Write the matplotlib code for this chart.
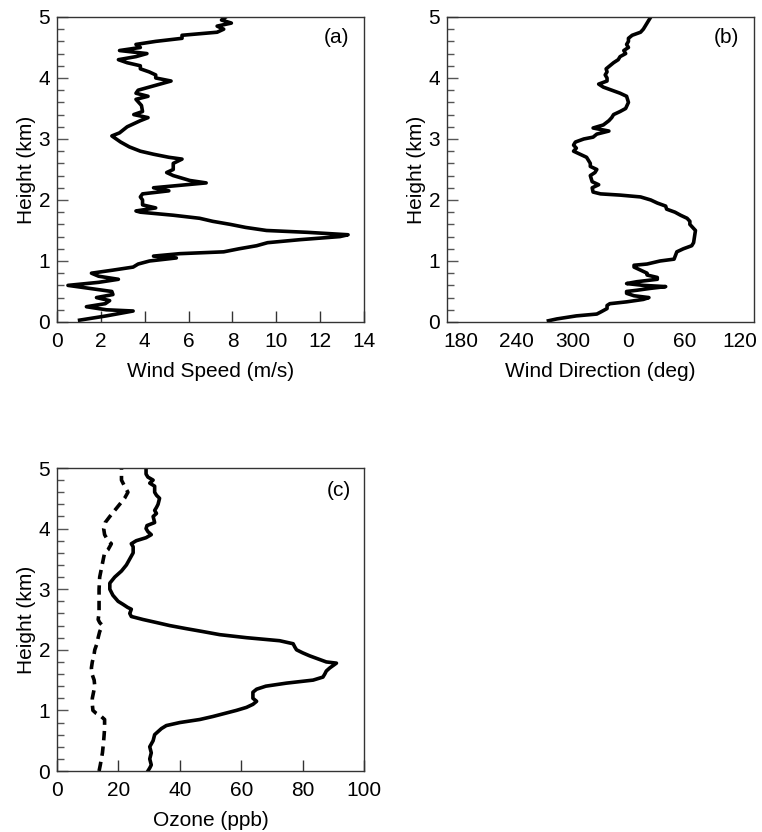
import matplotlib.pyplot as plt
import numpy as np
from matplotlib.ticker import MultipleLocator

plt.rcParams['font.family'] = ['Liberation Sans', 'DejaVu Sans']
plt.rcParams['font.size'] = 15

# panel (a): wind speed profile
h_speed = [0.03, 0.1, 0.18, 0.2, 0.25, 0.3, 0.35, 0.4, 0.45, 0.5, 0.55, 0.6, 0.65, 0.7, 0.75,
           0.8, 0.85, 0.9, 0.95, 1.0, 1.05, 1.08, 1.12, 1.15, 1.2, 1.25, 1.3, 1.35, 1.4, 1.43,
           1.47, 1.5, 1.55, 1.6, 1.65, 1.7, 1.75, 1.8, 1.82, 1.87, 1.92, 2.0, 2.05, 2.1, 2.15,
           2.2, 2.25, 2.28, 2.32, 2.4, 2.45, 2.5, 2.6, 2.67, 2.7, 2.75, 2.8, 2.87, 2.95, 3.0,
           3.05, 3.1, 3.2, 3.25, 3.3, 3.35, 3.4, 3.45, 3.55, 3.65, 3.7, 3.75, 3.8, 3.85, 3.9,
           3.95, 4.0, 4.05, 4.1, 4.15, 4.2, 4.25, 4.3, 4.35, 4.4, 4.45, 4.5, 4.55, 4.6, 4.65,
           4.7, 4.75, 4.8, 4.85, 4.9, 4.95, 5.0]
speed = [1.03, 2.25, 3.47, 2.25, 1.34, 2.2, 2.4, 1.8, 2.55, 2.5, 1.5, 0.5, 1.9, 2.8, 1.9,
         1.57, 2.55, 3.47, 3.7, 4.22, 5.44, 4.4, 5.6, 7.6, 8.3, 9.1, 9.6, 11.1, 12.9, 13.27,
         11.4, 9.55, 8.6, 7.9, 7.1, 6.5, 5.3, 3.8, 3.6, 4.5, 3.9, 3.9, 3.8, 3.9, 5.1,
         4.4, 5.9, 6.8, 6.05, 5.3, 5.0, 5.3, 5.3, 5.7, 5.1, 4.4, 3.8, 3.3, 2.9, 2.7,
         2.5, 2.85, 3.2, 3.5, 3.8, 4.15, 3.5, 3.9, 3.85, 3.6, 4.15, 3.6, 3.7, 4.2, 4.7,
         5.2, 4.5, 4.5, 4.2, 3.8, 3.8, 3.2, 2.8, 3.6, 4.1, 2.85, 3.8, 3.6, 4.5, 5.7,
         5.7, 7.3, 7.6, 7.3, 7.95, 7.5, 7.7]

# panel (b): wind direction profile (deg, 0-360)
h_dir = [0.02, 0.05, 0.1, 0.13, 0.17, 0.22, 0.27, 0.3, 0.33, 0.37, 0.4, 0.43, 0.47, 0.5, 0.52,
         0.55, 0.58, 0.6, 0.63, 0.66, 0.7, 0.73, 0.77, 0.8, 0.85, 0.9, 0.93, 0.95, 1.0, 1.03,
         1.07, 1.15, 1.2, 1.25, 1.3, 1.4, 1.5, 1.6, 1.65, 1.7, 1.75, 1.8, 1.85, 1.9, 1.95,
         2.0, 2.05, 2.08, 2.1, 2.13, 2.2, 2.25, 2.3, 2.4, 2.45, 2.5, 2.55, 2.6, 2.7, 2.75,
         2.8, 2.85, 2.9, 2.95, 3.0, 3.03, 3.08, 3.13, 3.18, 3.23, 3.3, 3.35, 3.4, 3.45, 3.5,
         3.6, 3.7, 3.75, 3.8, 3.85, 3.9, 3.95, 4.0, 4.05, 4.1, 4.15, 4.2, 4.25, 4.3, 4.35,
         4.4, 4.45, 4.5, 4.55, 4.6, 4.65, 4.7, 4.75, 4.8, 4.85, 4.9, 4.95, 5.0]
direction = [274, 283, 304, 326, 331, 337, 337, 340, 358, 16, 22, 6, 358, 358, 9,
             23, 40, 16, 358, 9, 31, 31, 20, 20, 13, 6, 6, 20, 34, 49,
             50, 52, 59, 68, 70, 71, 72, 66, 66, 63, 56, 50, 41, 40, 31,
             24, 13, 351, 330, 322, 321, 328, 321, 319, 324, 326, 319, 319, 315, 308,
             301, 304, 301, 303, 312, 322, 326, 339, 322, 333, 339, 342, 344, 351, 357,
             0, 358, 351, 342, 333, 328, 337, 337, 335, 337, 336, 340, 344, 349, 351,
             357, 355, 0, 358, 0, 0, 4, 13, 16, 18, 20, 22, 24]

# panel (c): ozone profiles
h_oz = [0.0, 0.05, 0.1, 0.2, 0.3, 0.4, 0.5, 0.6, 0.7, 0.75, 0.8, 0.85, 0.9, 0.95, 1.0,
        1.05, 1.1, 1.15, 1.2, 1.25, 1.3, 1.35, 1.4, 1.45, 1.5, 1.55, 1.6, 1.65, 1.7, 1.78,
        1.8, 1.85, 1.9, 1.95, 2.0, 2.05, 2.1, 2.15, 2.2, 2.25, 2.3, 2.35, 2.4, 2.45, 2.5,
        2.55, 2.6, 2.67, 2.7, 2.75, 2.8, 2.9, 3.0, 3.1, 3.2, 3.3, 3.4, 3.5, 3.6, 3.7,
        3.75, 3.8, 3.85, 3.9, 3.95, 4.0, 4.05, 4.1, 4.2, 4.25, 4.3, 4.35, 4.4, 4.5, 4.55,
        4.6, 4.7, 4.75, 4.8, 4.85, 4.9, 5.0]
ozone = [29.6, 30.2, 30.7, 30.2, 30.7, 30.2, 31.3, 31.8, 34.0, 35.6, 40.0, 46.5, 50.8, 54.6, 58.4,
         61.7, 63.8, 65.0, 63.8, 63.8, 63.8, 65.0, 68.0, 74.7, 83.4, 86.6, 87.2, 87.7, 88.8, 91.0,
         87.7, 85.0, 82.3, 80.0, 78.0, 77.4, 76.9, 72.5, 61.7, 53.0, 47.6, 42.0, 36.7, 32.4, 28.0,
         24.2, 23.7, 24.2, 23.0, 21.5, 19.9, 18.2, 17.2, 17.2, 18.8, 21.0, 22.6, 23.7, 24.8, 24.8,
         24.2, 25.8, 29.0, 30.7, 29.6, 29.0, 29.3, 31.8, 31.3, 32.4, 31.8, 32.4, 32.9, 33.4, 32.4,
         31.8, 31.8, 30.2, 31.3, 29.6, 29.0, 29.0]
h_oz_bg = [0.0, 0.1, 0.3, 0.5, 0.7, 0.85, 0.9, 0.95, 1.0, 1.1, 1.2, 1.3, 1.4, 1.5, 1.6,
           1.7, 1.8, 1.9, 2.0, 2.1, 2.2, 2.3, 2.4, 2.45, 2.5, 2.6, 2.8, 3.0, 3.2, 3.4,
           3.6, 3.65, 3.75, 3.8, 3.9, 4.0, 4.1, 4.2, 4.3, 4.4, 4.5, 4.6, 4.7, 4.8, 4.9, 5.0]
ozone_bg = [13.7, 14.1, 14.8, 15.2, 15.5, 15.5, 14.4, 12.8, 11.7, 11.5, 11.5, 11.9, 12.3, 12.1, 11.4,
            11.2, 11.5, 12.0, 12.3, 13.0, 13.4, 13.9, 14.8, 13.9, 13.4, 13.7, 13.7, 13.7, 13.9, 14.7,
            15.5, 16.6, 17.7, 16.6, 15.5, 15.2, 15.7, 17.2, 18.8, 20.4, 22.0, 23.1, 22.0, 21.0, 21.0, 21.0]

fig = plt.figure(figsize=(7.62, 8.32), dpi=100)
ax_a = fig.add_axes([0.0748, 0.613, 0.403, 0.3666])
ax_b = fig.add_axes([0.5866, 0.613, 0.403, 0.3666])
ax_c = fig.add_axes([0.0748, 0.0733, 0.403, 0.3642])

def style(ax):
    ax.set_ylim(0, 5)
    ax.yaxis.set_major_locator(MultipleLocator(1))
    ax.yaxis.set_minor_locator(MultipleLocator(0.2))
    ax.tick_params(axis='y', which='major', direction='in', length=8, width=1, color='#555555', pad=5)
    ax.tick_params(axis='y', which='minor', direction='in', length=5, width=1, color='#555555')
    ax.tick_params(axis='x', which='major', direction='in', length=8, width=1, color='#333333', pad=7)
    ax.set_ylabel('Height (km)', labelpad=2)
    for s in ax.spines.values():
        s.set_linewidth(1.0)
        s.set_color('#333333')

lw = 2.6

ax_a.plot(speed, h_speed, color='black', lw=lw, solid_joinstyle='round')
style(ax_a)
ax_a.set_xlim(0, 14)
ax_a.set_xticks(np.arange(0, 15, 2))
ax_a.set_xlabel('Wind Speed (m/s)', labelpad=8)
ax_a.text(0.91, 0.934, '(a)', transform=ax_a.transAxes, ha='center', va='center')

dir_x = np.where(np.array(direction) < 165, np.array(direction) + 360, np.array(direction))
ax_b.plot(dir_x, h_dir, color='black', lw=lw, solid_joinstyle='round')
style(ax_b)
ax_b.set_xlim(165, 495)
ax_b.set_xticks([180, 240, 300, 360, 420, 480])
ax_b.set_xticklabels(['180', '240', '300', '0', '60', '120'])
ax_b.tick_params(axis='x', length=0, pad=7)
ax_b.set_xlabel('Wind Direction (deg)', labelpad=8)
ax_b.text(0.91, 0.934, '(b)', transform=ax_b.transAxes, ha='center', va='center')

ax_c.plot(ozone, h_oz, color='black', lw=lw, solid_joinstyle='round')
ax_c.plot(ozone_bg, h_oz_bg, color='black', lw=lw, linestyle=(0, (2.6, 1.7)))
style(ax_c)
ax_c.set_xlim(0, 100)
ax_c.set_xticks(np.arange(0, 101, 20))
ax_c.set_xlabel('Ozone (ppb)', labelpad=8)
ax_c.text(0.918, 0.927, '(c)', transform=ax_c.transAxes, ha='center', va='center')

fig.savefig('out.png', dpi=100)
